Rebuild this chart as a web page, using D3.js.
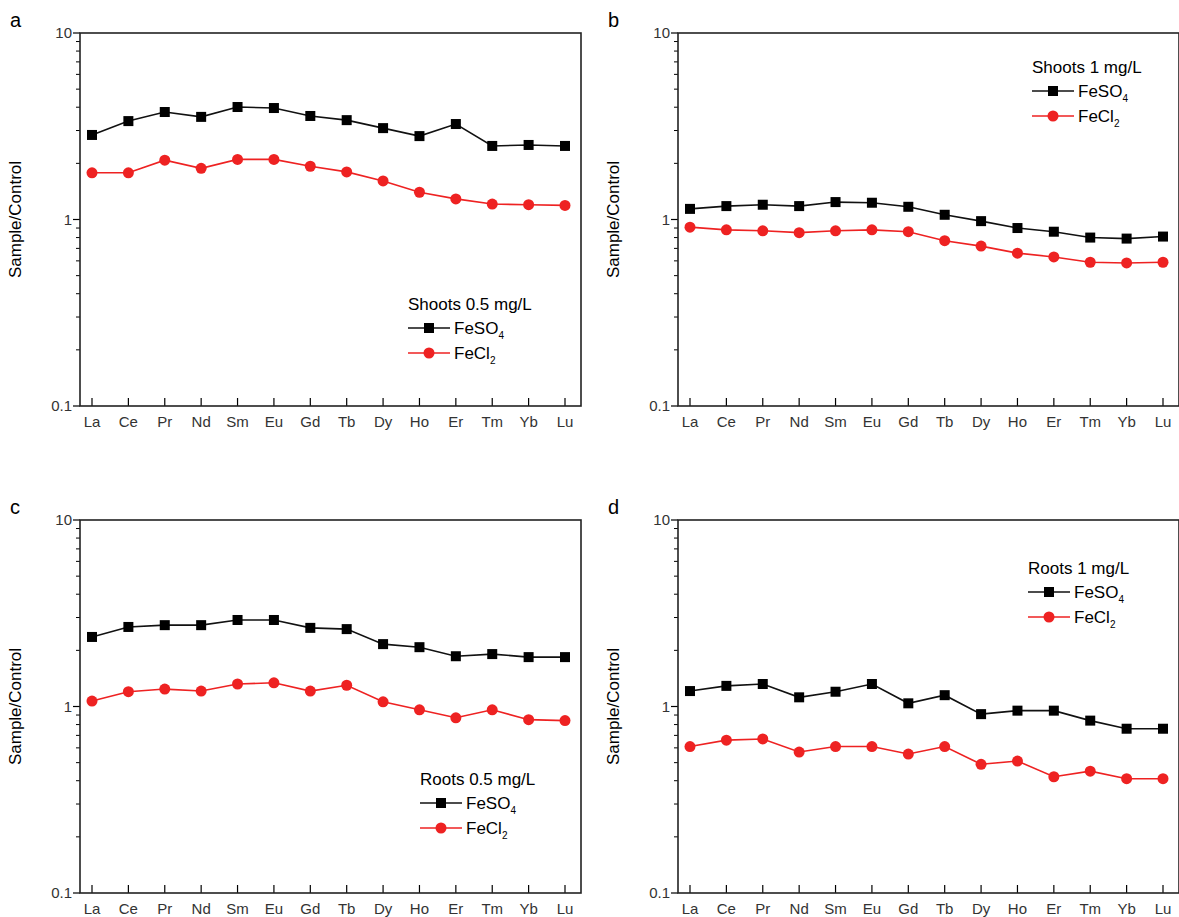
<!DOCTYPE html>
<html>
<head>
<meta charset="utf-8">
<script src="https://cdn.jsdelivr.net/npm/d3@7"></script>
<style>
    body { margin: 0; background: #fff; }
    text { font-family: "Liberation Sans", Arial, sans-serif; }
</style>
</head>
<body>
<svg id="chart" width="1179" height="917"></svg>
<script>
    // rare earth elements on the x axis
    var elements = ['La', 'Ce', 'Pr', 'Nd', 'Sm', 'Eu', 'Gd', 'Tb', 'Dy', 'Ho', 'Er', 'Tm', 'Yb', 'Lu'];
    var yTicks = [0.1, 1, 10];

    // values (Sample/Control)
    var shoots05FeSO4 = [2.84, 3.37, 3.77, 3.55, 4.01, 3.96, 3.59, 3.41, 3.09, 2.80, 3.25, 2.48, 2.51, 2.48];
    var shoots05FeCl2 = [1.78, 1.78, 2.08, 1.88, 2.10, 2.10, 1.93, 1.80, 1.61, 1.40, 1.29, 1.21, 1.20, 1.19];
    var shoots1FeSO4 = [1.14, 1.18, 1.20, 1.18, 1.24, 1.23, 1.17, 1.06, 0.98, 0.90, 0.86, 0.80, 0.79, 0.81];
    var shoots1FeCl2 = [0.91, 0.88, 0.87, 0.85, 0.87, 0.88, 0.86, 0.77, 0.72, 0.66, 0.63, 0.59, 0.585, 0.59];
    var roots05FeSO4 = [2.36, 2.67, 2.73, 2.73, 2.91, 2.91, 2.64, 2.60, 2.16, 2.08, 1.86, 1.91, 1.84, 1.84];
    var roots05FeCl2 = [1.07, 1.20, 1.24, 1.21, 1.32, 1.34, 1.21, 1.30, 1.06, 0.96, 0.87, 0.96, 0.85, 0.84];
    var roots1FeSO4 = [1.21, 1.29, 1.32, 1.12, 1.20, 1.32, 1.04, 1.15, 0.91, 0.95, 0.95, 0.84, 0.76, 0.76];
    var roots1FeCl2 = [0.61, 0.66, 0.67, 0.57, 0.61, 0.61, 0.556, 0.61, 0.49, 0.51, 0.42, 0.45, 0.41, 0.41];

    var svg = d3.select('#chart');

    drawPanel({ letter: 'a', left: 80, top: 33, title: 'Shoots 0.5 mg/L', so4: shoots05FeSO4, cl2: shoots05FeCl2, lx: 408, ly: 310 });
    drawPanel({ letter: 'b', left: 678, top: 33, title: 'Shoots 1 mg/L', so4: shoots1FeSO4, cl2: shoots1FeCl2, lx: 1032, ly: 73 });
    drawPanel({ letter: 'c', left: 80, top: 520, title: 'Roots 0.5 mg/L', so4: roots05FeSO4, cl2: roots05FeCl2, lx: 420, ly: 785 });
    drawPanel({ letter: 'd', left: 678, top: 520, title: 'Roots 1 mg/L', so4: roots1FeSO4, cl2: roots1FeCl2, lx: 1028, ly: 574 });

    function drawPanel(p) {
        var w = 501, h = 373;
        var g = svg.append('g').attr('transform', 'translate(' + p.left + ',' + p.top + ')');

        var x = d3.scalePoint().domain(elements).range([12, w - 16]);
        var y = d3.scaleLog().domain([0.1, 10]).range([h, 0]);

        // minor ticks on the left, pointing outward
        var minor = [];
        [0.1, 1].forEach(function (d) { for (var k = 2; k <= 9; k++) minor.push(d * k); });
        g.selectAll('.minor').data(minor).enter().append('line')
            .attr('x1', -4).attr('x2', 0)
            .attr('y1', y).attr('y2', y)
            .attr('stroke', '#000').attr('stroke-width', 1);
        g.selectAll('.major').data(yTicks).enter().append('line')
            .attr('x1', -7).attr('x2', 0)
            .attr('y1', y).attr('y2', y)
            .attr('stroke', '#000').attr('stroke-width', 1.2);
        g.selectAll('.ylab').data(yTicks).enter().append('text')
            .attr('x', -8).attr('y', function (d) { return y(d) + 5; })
            .attr('text-anchor', 'end').attr('font-size', 15).attr('fill', '#333')
            .text(function (d) { return d; });

        // x ticks point inward
        g.selectAll('.xt').data(elements).enter().append('line')
            .attr('x1', x).attr('x2', x)
            .attr('y1', h).attr('y2', h - 8)
            .attr('stroke', '#000').attr('stroke-width', 1.2);
        g.selectAll('.xlab').data(elements).enter().append('text')
            .attr('x', x).attr('y', h + 21)
            .attr('text-anchor', 'middle').attr('font-size', 15).attr('fill', '#333')
            .text(function (d) { return d; });

        g.append('rect').attr('width', w).attr('height', h)
            .attr('fill', 'none').attr('stroke', '#222').attr('stroke-width', 1.6);

        g.append('text')
            .attr('transform', 'translate(' + (-59) + ',' + (h / 2) + ') rotate(-90)')
            .attr('text-anchor', 'middle').attr('font-size', 17)
            .text('Sample/Control');
        g.append('text').attr('x', -70).attr('y', -6).attr('font-size', 20).text(p.letter);

        var line = d3.line().x(function (d, i) { return x(elements[i]); }).y(function (d) { return y(d); });

        g.append('path').datum(p.cl2).attr('d', line)
            .attr('fill', 'none').attr('stroke', '#ee2222').attr('stroke-width', 1.6);
        g.selectAll('.c').data(p.cl2).enter().append('circle')
            .attr('cx', function (d, i) { return x(elements[i]); }).attr('cy', y)
            .attr('r', 5.5).attr('fill', '#ee2222');

        g.append('path').datum(p.so4).attr('d', line)
            .attr('fill', 'none').attr('stroke', '#111').attr('stroke-width', 1.6);
        g.selectAll('.s').data(p.so4).enter().append('rect')
            .attr('x', function (d, i) { return x(elements[i]) - 5; })
            .attr('y', function (d) { return y(d) - 5; })
            .attr('width', 10).attr('height', 10).attr('fill', '#000');

        // legend, in page coordinates
        var lg = svg.append('g').attr('transform', 'translate(' + p.lx + ',' + p.ly + ')');
        lg.append('text').attr('font-size', 17).text(p.title);
        var items = [
            { name: 'FeSO', sub: '4', color: '#111', shape: 'square' },
            { name: 'FeCl', sub: '2', color: '#ee2222', shape: 'circle' }
        ];
        items.forEach(function (it, i) {
            var yy = 18 + i * 25;
            lg.append('line').attr('x1', 0).attr('x2', 42).attr('y1', yy).attr('y2', yy)
                .attr('stroke', it.color).attr('stroke-width', 1.6);
            if (it.shape === 'square') {
                lg.append('rect').attr('x', 16).attr('y', yy - 5).attr('width', 10).attr('height', 10).attr('fill', '#000');
            } else {
                lg.append('circle').attr('cx', 21).attr('cy', yy).attr('r', 5.5).attr('fill', it.color);
            }
            var t = lg.append('text').attr('x', 46).attr('y', yy + 6).attr('font-size', 17);
            t.append('tspan').text(it.name);
            t.append('tspan').attr('font-size', 10).attr('dy', 5).text(it.sub);
        });
    }
</script>
</body>
</html>
